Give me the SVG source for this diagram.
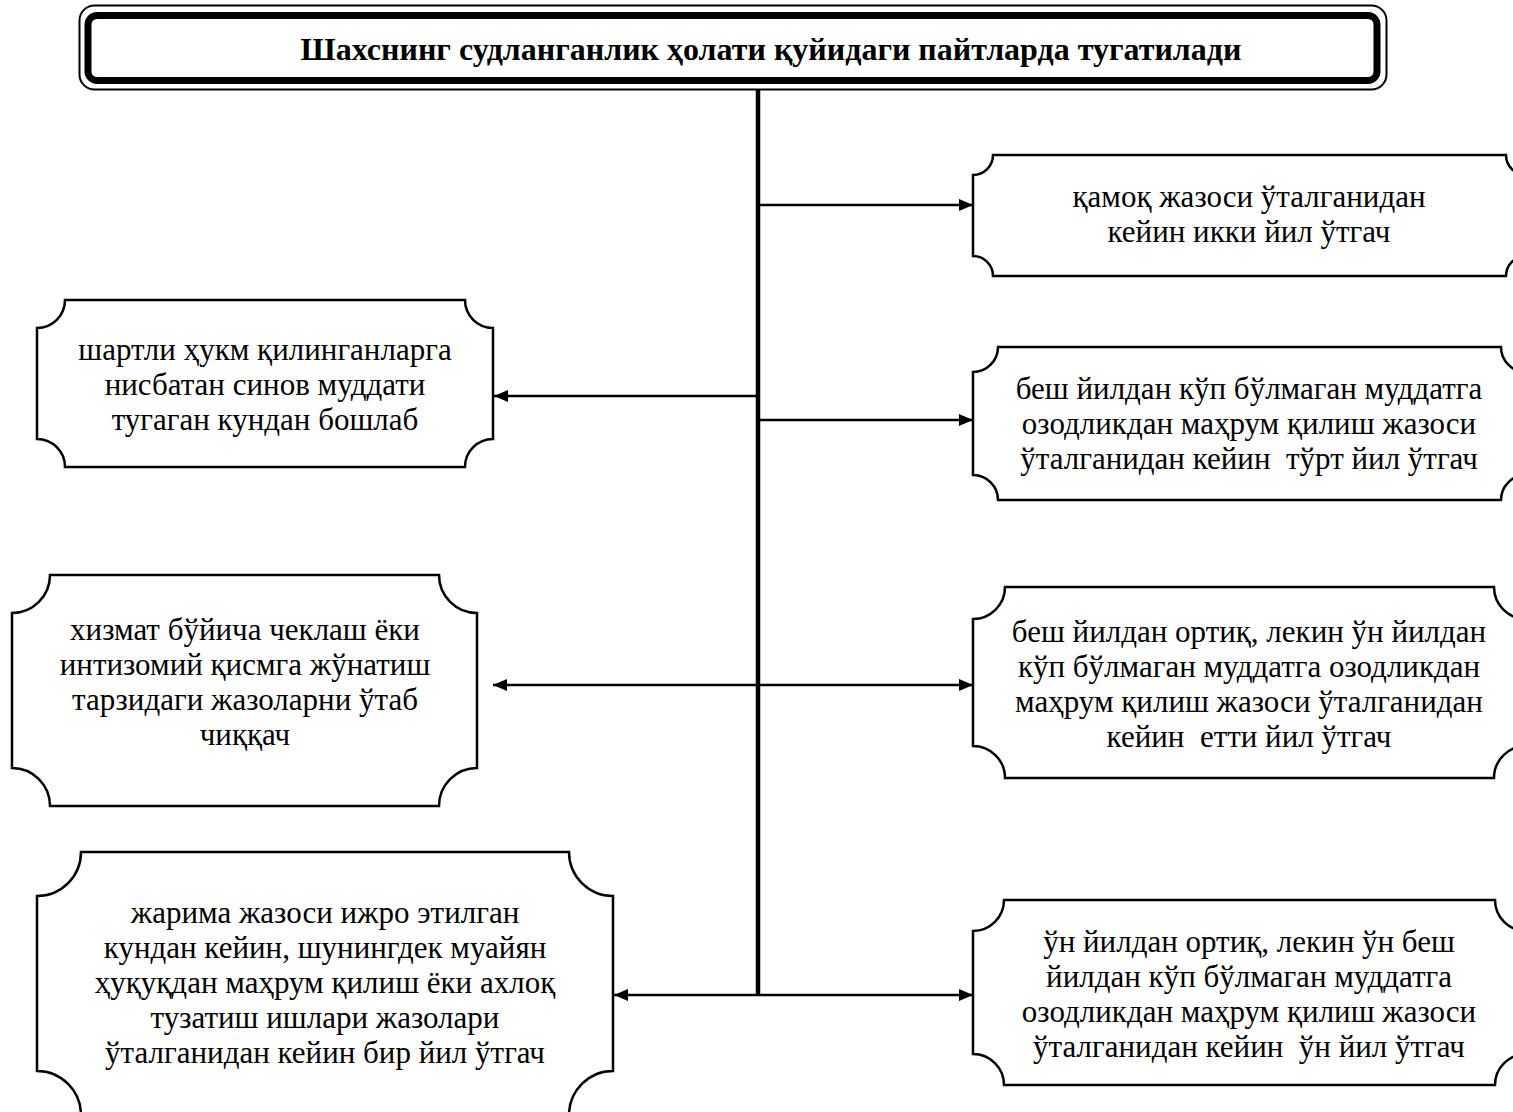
<svg xmlns="http://www.w3.org/2000/svg" width="1513" height="1112" viewBox="0 0 1513 1112">
<style>
.box{fill:#fff;stroke:#000;stroke-width:2.5}
.t{font-family:"Liberation Serif","Times New Roman",serif;font-size:31px;fill:#000;text-anchor:middle}
.title{font-family:"Liberation Serif","Times New Roman",serif;font-size:32px;font-weight:bold;fill:#000;text-anchor:middle}
.ln{stroke:#000;stroke-width:2.5;fill:none}
</style>
<defs>
<marker id="ah" viewBox="0 0 14 12" refX="14" refY="6" markerWidth="14" markerHeight="12" markerUnits="userSpaceOnUse" orient="auto-start-reverse">
<path d="M0,0 L14,6 L0,12 Z" fill="#000"/>
</marker>
</defs>
<rect width="1513" height="1112" fill="#fff"/>
<g id="title">
<rect x="79.5" y="5.5" width="1307" height="84" rx="15" fill="#fff" stroke="#000" stroke-width="2"/>
<rect x="88" y="15.5" width="1289" height="65" rx="9" fill="none" stroke="#000" stroke-width="7"/>
<text class="title" x="771" y="60">Шахснинг судланганлик ҳолати қуйидаги пайтларда тугатилади</text>
</g>
<g id="connectors">
<line class="ln" x1="758" y1="89" x2="758" y2="996" style="stroke-width:4.5"/>
<line class="ln" x1="758" y1="205" x2="973" y2="205" marker-end="url(#ah)"/>
<line class="ln" x1="758" y1="396" x2="494" y2="396" marker-end="url(#ah)"/>
<line class="ln" x1="758" y1="420" x2="973" y2="420" marker-end="url(#ah)"/>
<line class="ln" x1="493" y1="685" x2="973" y2="685" marker-start="url(#ah)" marker-end="url(#ah)"/>
<line class="ln" x1="614" y1="995" x2="973" y2="995" marker-start="url(#ah)" marker-end="url(#ah)"/>
</g>
<g id="r1">
<path class="box" d="M993,155 H1506 A20,20 0 0 0 1526,175 V256 A20,20 0 0 0 1506,276 H993 A20,20 0 0 0 973,256 V175 A20,20 0 0 0 993,155 Z"/>
<text class="t" x="1249" y="207">қамоқ жазоси ўталганидан</text>
<text class="t" x="1249" y="242">кейин икки йил ўтгач</text>
</g>
<g id="r2">
<path class="box" d="M998,347 H1501 A25,25 0 0 0 1526,372 V475 A25,25 0 0 0 1501,500 H998 A25,25 0 0 0 973,475 V372 A25,25 0 0 0 998,347 Z"/>
<text class="t" x="1249" y="399">беш йилдан кўп бўлмаган муддатга</text>
<text class="t" x="1249" y="434">озодликдан маҳрум қилиш жазоси</text>
<text class="t" x="1249" y="469" xml:space="preserve">ўталганидан кейин  тўрт йил ўтгач</text>
</g>
<g id="r3">
<path class="box" d="M1005,587 H1494 A32,32 0 0 0 1526,619 V746 A32,32 0 0 0 1494,778 H1005 A32,32 0 0 0 973,746 V619 A32,32 0 0 0 1005,587 Z"/>
<text class="t" x="1249" y="642">беш йилдан ортиқ, лекин ўн йилдан</text>
<text class="t" x="1249" y="677">кўп бўлмаган муддатга озодликдан</text>
<text class="t" x="1249" y="712">маҳрум қилиш жазоси ўталганидан</text>
<text class="t" x="1249" y="747" xml:space="preserve">кейин  етти йил ўтгач</text>
</g>
<g id="r4">
<path class="box" d="M1004,900 H1495 A31,31 0 0 0 1526,931 V1054 A31,31 0 0 0 1495,1085 H1004 A31,31 0 0 0 973,1054 V931 A31,31 0 0 0 1004,900 Z"/>
<text class="t" x="1249" y="952">ўн йилдан ортиқ, лекин ўн беш</text>
<text class="t" x="1249" y="987">йилдан кўп бўлмаган муддатга</text>
<text class="t" x="1249" y="1022">озодликдан маҳрум қилиш жазоси</text>
<text class="t" x="1249" y="1057" xml:space="preserve">ўталганидан кейин  ўн йил ўтгач</text>
</g>
<g id="l1">
<path class="box" d="M65,300 H465 A28,28 0 0 0 493,328 V439 A28,28 0 0 0 465,467 H65 A28,28 0 0 0 37,439 V328 A28,28 0 0 0 65,300 Z"/>
<text class="t" x="265" y="360">шартли ҳукм қилинганларга</text>
<text class="t" x="265" y="395">нисбатан синов муддати</text>
<text class="t" x="265" y="430">тугаган кундан бошлаб</text>
</g>
<g id="l2">
<path class="box" d="M50,575 H439 A38,38 0 0 0 477,613 V768 A38,38 0 0 0 439,806 H50 A38,38 0 0 0 12,768 V613 A38,38 0 0 0 50,575 Z"/>
<text class="t" x="245" y="640">хизмат бўйича чеклаш ёки</text>
<text class="t" x="245" y="675">интизомий қисмга жўнатиш</text>
<text class="t" x="245" y="710">тарзидаги жазоларни ўтаб</text>
<text class="t" x="245" y="745">чиққач</text>
</g>
<g id="l3">
<path class="box" d="M81,852 H569 A44,44 0 0 0 613,896 V1071 A44,44 0 0 0 569,1115 H81 A44,44 0 0 0 37,1071 V896 A44,44 0 0 0 81,852 Z"/>
<text class="t" x="325" y="923">жарима жазоси ижро этилган</text>
<text class="t" x="325" y="958">кундан кейин, шунингдек муайян</text>
<text class="t" x="325" y="993">ҳуқуқдан маҳрум қилиш ёки ахлоқ</text>
<text class="t" x="325" y="1028">тузатиш ишлари жазолари</text>
<text class="t" x="325" y="1063">ўталганидан кейин бир йил ўтгач</text>
</g>
</svg>
